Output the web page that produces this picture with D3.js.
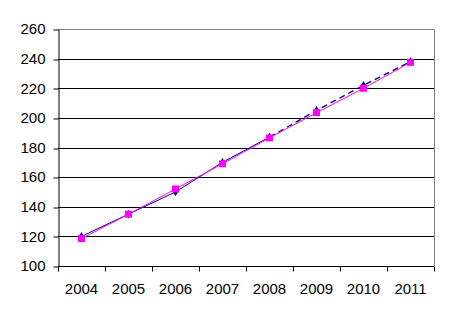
<!DOCTYPE html>
<html>
<head>
<meta charset="utf-8">
<script src="https://cdn.jsdelivr.net/npm/d3@7"></script>
<style>
  body { margin: 0; background: #fff; }
  text { font-family: "Liberation Sans", Arial, sans-serif; }
</style>
</head>
<body>
<script>
// Chart data
var years = ["2004", "2005", "2006", "2007", "2008", "2009", "2010", "2011"];
var seriesNavy = [120, 135, 150, 170, 187, 205, 222, 238];
var seriesPink = [118.5, 135, 152, 169, 186.5, 203.5, 220, 237.5];
var yTicks = [100, 120, 140, 160, 180, 200, 220, 240, 260];
var solidUntil = 4; // navy line turns dashed after 2008

var svgWidth = 450, svgHeight = 318;
var margin = { top: 29, right: 16, bottom: 52, left: 58 };
var width = svgWidth - margin.left - margin.right;
var height = svgHeight - margin.top - margin.bottom;

var svg = d3.select("body").append("svg")
  .attr("width", svgWidth)
  .attr("height", svgHeight);

var g = svg.append("g")
  .attr("transform", `translate(${margin.left},${margin.top})`);

var x = d3.scaleBand().domain(years).range([0, width]).padding(0);
var y = d3.scaleLinear().domain([100, 260]).range([height, 0]);

// gridlines
g.selectAll(".grid").data(yTicks.slice(1)).enter().append("line")
  .attr("x1", 0).attr("x2", width)
  .attr("y1", d => Math.round(y(d)) + 0.5).attr("y2", d => Math.round(y(d)) + 0.5)
  .attr("stroke", d => d === 260 ? "#808080" : "#000")
  .attr("stroke-width", 1);

// right border
g.append("line")
  .attr("x1", width + 0.5).attr("x2", width + 0.5)
  .attr("y1", Math.round(y(260)) + 0.5).attr("y2", height)
  .attr("stroke", "#808080");

// y axis
var yAxis = g.append("g")
  .attr("transform", "translate(0.5,0)")
  .call(d3.axisLeft(y).tickValues(yTicks).tickSize(5).tickSizeOuter(0).tickPadding(8));
yAxis.select(".domain").attr("stroke", "#000");
yAxis.selectAll(".tick line").attr("stroke", "#000")
  .attr("transform", d => `translate(0,${Math.round(y(d)) + 0.5 - y(d)})`);
yAxis.selectAll("text").attr("font-size", 15).attr("fill", "#000")
  .attr("font-family", "Liberation Sans, Arial, sans-serif");

// x axis
var xAxis = g.append("g")
  .attr("transform", `translate(0,${Math.round(height) + 0.5})`)
  .call(d3.axisBottom(x).tickSize(0).tickPadding(17));
xAxis.select(".domain").remove();
xAxis.selectAll("text").attr("font-size", 15).attr("fill", "#000")
  .attr("font-family", "Liberation Sans, Arial, sans-serif");
var bounds = years.map(d => x(d)).concat([width]);
xAxis.selectAll(".xt").data(bounds).enter().append("line")
  .attr("x1", d => Math.round(d) + 0.5).attr("x2", d => Math.round(d) + 0.5)
  .attr("y1", 0).attr("y2", 5)
  .attr("stroke", "#000");
xAxis.append("line")
  .attr("x1", 0).attr("x2", width).attr("y1", 0).attr("y2", 0)
  .attr("stroke", "#000");

var cx = d => x(d) + x.bandwidth() / 2;

var line = d3.line()
  .x(d => cx(d.year))
  .y(d => y(d.v));

var navy = years.map((yr, i) => ({ year: yr, v: seriesNavy[i] }));
var pink = years.map((yr, i) => ({ year: yr, v: seriesPink[i] }));

// navy series: solid then dashed
g.append("path").datum(navy.slice(0, solidUntil + 1))
  .attr("d", line).attr("fill", "none")
  .attr("stroke", "#000080").attr("stroke-width", 1);
g.append("path").datum(navy.slice(solidUntil))
  .attr("d", line).attr("fill", "none")
  .attr("stroke", "#000080").attr("stroke-width", 1.3)
  .attr("stroke-dasharray", "6,4");

// navy diamonds
g.selectAll(".dia").data(navy).enter().append("path")
  .attr("d", d3.symbol().type(d3.symbolDiamond).size(22))
  .attr("transform", d => `translate(${cx(d.year)},${y(d.v)})`)
  .attr("fill", "#000080");

// pink series
g.append("path").datum(pink)
  .attr("d", line).attr("fill", "none")
  .attr("stroke", "#ff00ff").attr("stroke-width", 1);

g.selectAll(".sq").data(pink).enter().append("rect")
  .attr("x", d => cx(d.year) - 3.5)
  .attr("y", d => y(d.v) - 3.5)
  .attr("width", 7).attr("height", 7)
  .attr("fill", "#ff00ff");
</script>
</body>
</html>
